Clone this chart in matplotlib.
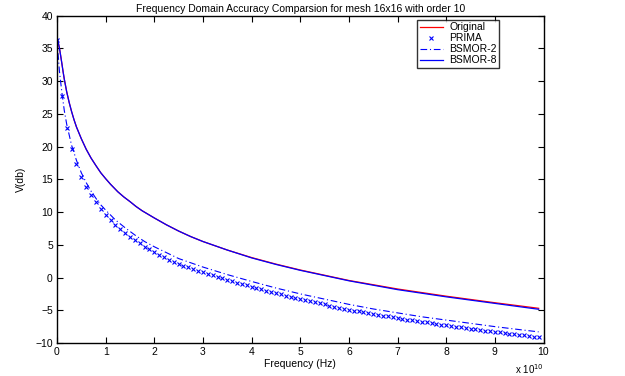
import numpy as np
import matplotlib
matplotlib.use("Agg")
import matplotlib.pyplot as plt

plt.rcParams['font.family'] = ['Liberation Sans', 'DejaVu Sans']

# ---- data (frequency in units of 1e10 Hz) ----
freq_orig = [0, 0.02, 0.05, 0.075, 0.1, 0.125, 0.15, 0.2, 0.25, 0.3, 0.35, 0.4,
             0.5, 0.6, 0.7, 0.8, 0.9, 1.0, 1.1, 1.25, 1.375, 1.5, 1.625, 1.75,
             2.0, 2.25, 2.5, 2.75, 3.0, 3.25, 3.5, 4.0, 4.5, 5.0, 6.0, 7.0,
             8.0, 9.0, 9.9]
v_original = [36.3, 36.1, 35.05, 33.9, 32.7, 31.45, 30.3, 28.35, 26.75, 25.35,
              24.1, 23.0, 21.2, 19.6, 18.25, 17.1, 16.0, 15.1, 14.25, 13.1,
              12.3, 11.6, 10.85, 10.2, 9.1, 8.05, 7.1, 6.25, 5.5, 4.85, 4.2,
              3.05, 2.05, 1.15, -0.45, -1.75, -2.85, -3.85, -4.7]
v_bsmor8 = [36.3, 36.1, 35.05, 33.9, 32.7, 31.45, 30.3, 28.35, 26.75, 25.35,
            24.1, 23.0, 21.2, 19.6, 18.25, 17.1, 16.0, 15.1, 14.25, 13.1,
            12.3, 11.6, 10.85, 10.2, 9.1, 8.05, 7.1, 6.25, 5.5, 4.85, 4.2,
            3.0, 2.0, 1.1, -0.5, -1.85, -2.95, -3.95, -4.85]

freq_prima = [round(0.1 * i, 1) for i in range(100)]
v_prima = [36.3, 27.8, 22.9, 19.7, 17.3, 15.4, 13.9, 12.6, 11.5, 10.5,
           9.6, 8.8, 8.1, 7.4, 6.8, 6.2, 5.7, 5.2, 4.7, 4.3,
           3.9, 3.5, 3.1, 2.75, 2.4, 2.1, 1.8, 1.55, 1.3, 1.05,
           0.8, 0.56, 0.33, 0.1, -0.12, -0.34, -0.55, -0.76, -0.97, -1.18,
           -1.4, -1.6, -1.8, -2.0, -2.2, -2.4, -2.58, -2.76, -2.94, -3.12,
           -3.3, -3.47, -3.64, -3.8, -3.96, -4.12, -4.28, -4.44, -4.6, -4.75,
           -4.9, -5.04, -5.18, -5.31, -5.44, -5.57, -5.7, -5.83, -5.95, -6.08,
           -6.2, -6.32, -6.43, -6.54, -6.65, -6.76, -6.87, -6.98, -7.09, -7.2,
           -7.3, -7.4, -7.5, -7.6, -7.7, -7.8, -7.9, -8.0, -8.1, -8.2,
           -8.3, -8.39, -8.48, -8.57, -8.66, -8.75, -8.84, -8.93, -9.02, -9.1]

freq_b2 = [0, 0.05, 0.1, 0.15, 0.2, 0.3, 0.4, 0.5, 0.6, 0.7, 0.8, 0.9, 1.0,
           1.2, 1.4, 1.6, 1.8, 2.0, 2.5, 3.0, 3.5, 4.0, 4.5, 5.0, 5.5, 6.0,
           6.5, 7.0, 7.5, 8.0, 8.5, 9.0, 9.5, 9.9]
v_bsmor2 = [36.3, 31.5, 28.3, 25.5, 23.4, 20.2, 17.9, 16.0, 14.5, 13.2, 12.1,
            11.1, 10.3, 8.8, 7.6, 6.5, 5.5, 4.7, 2.9, 1.6, 0.45, -0.6, -1.6,
            -2.5, -3.3, -4.1, -4.8, -5.4, -6.0, -6.5, -7.0, -7.5, -7.95,
            -8.3]

xticks = list(range(0, 11))
yticks = list(range(-10, 41, 5))

# ---- figure ----
fig = plt.figure(figsize=(6.25, 3.76), dpi=100)
ax = fig.add_axes([0.0912, 0.0878, 0.7784, 0.8705])

ax.plot(freq_orig, v_original, color='red', lw=0.9, label='Original')
ax.plot(freq_prima, v_prima, linestyle='none', marker='x', color='blue',
        ms=3.5, mew=0.8, label='PRIMA')
ax.plot(freq_b2, v_bsmor2, linestyle=(0, (6, 2.5, 1, 2.5)), color='blue',
        lw=0.8, label='BSMOR-2')
ax.plot(freq_orig, v_bsmor8, color='blue', lw=0.9, label='BSMOR-8')

ax.set_xlim(0, 10)
ax.set_ylim(-10, 40)
ax.set_xticks(xticks)
ax.set_yticks(yticks)
ax.tick_params(direction='in', length=4, width=0.8, labelsize=7.5,
               top=True, right=True, pad=3)
for s in ax.spines.values():
    s.set_linewidth(1.0)

ax.set_title('Frequency Domain Accuracy Comparsion for mesh 16x16 with order 10',
             fontsize=7.5, pad=3)
ax.set_xlabel('Frequency (Hz)', fontsize=7.5, labelpad=1)
ax.set_ylabel('V(db)', fontsize=7.5, labelpad=7)
ax.text(1.0, -0.058, r'x 10$^{10}$', transform=ax.transAxes, fontsize=7,
        ha='right', va='top')

leg = ax.legend(loc='upper right', bbox_to_anchor=(0.909, 0.988),
                fontsize=7.5, frameon=True, fancybox=False,
                edgecolor='black', borderaxespad=0.0, handlelength=2.2,
                borderpad=0.25, labelspacing=0.1, handletextpad=0.6)
leg.get_frame().set_linewidth(1.0)

fig.savefig('out.png', dpi=100)
